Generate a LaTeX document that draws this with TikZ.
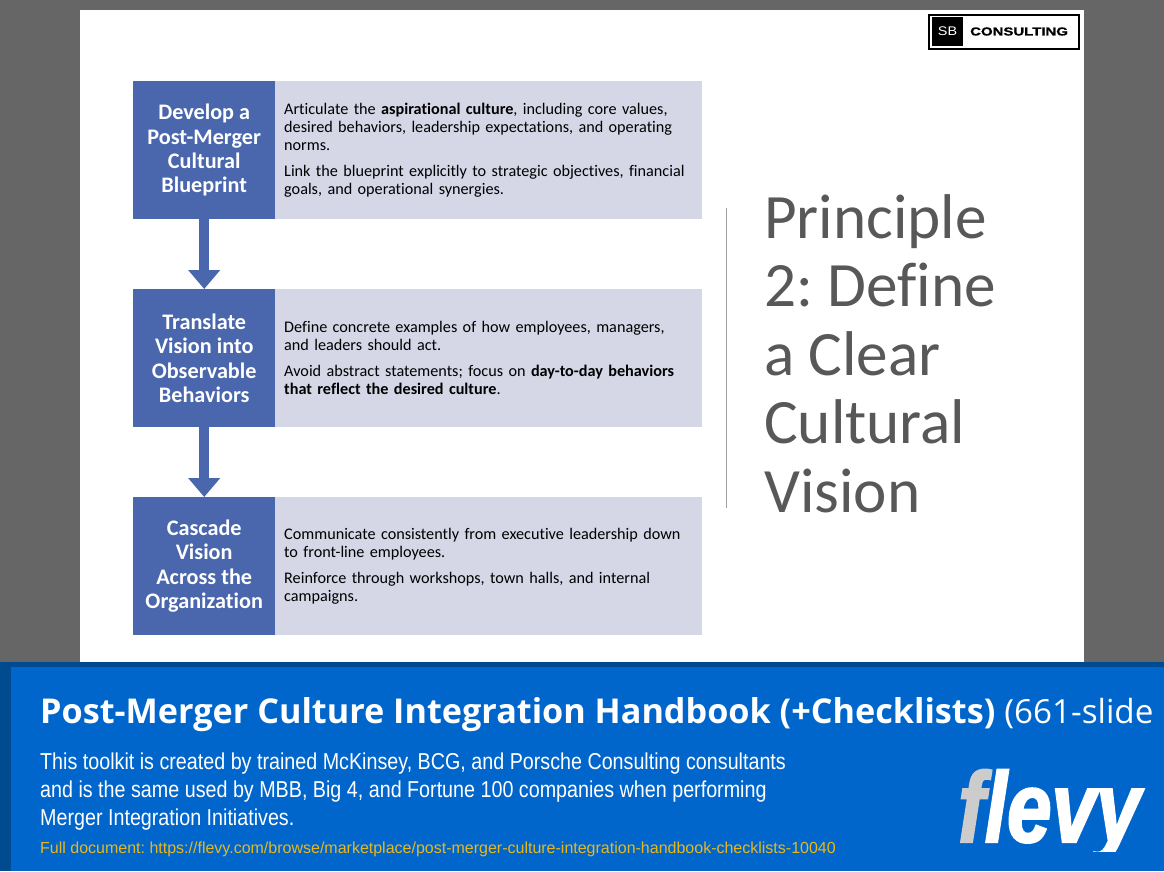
\documentclass[tikz,border=0pt]{standalone}
\usepackage{fontspec}
\setmainfont[Ligatures=NoCommon]{Carlito}
\newfontfamily\arialf{Liberation Sans}
\newfontfamily\blurbf[FakeStretch=0.857]{Liberation Sans}
\newfontfamily\logof[FakeStretch=1.3,FakeBold=1]{Liberation Sans}
\newfontfamily\sbf[FakeStretch=1.15]{Liberation Sans}
\newfontfamily\flevyf[FakeStretch=0.8,FakeBold=2]{Liberation Sans}
\newfontfamily\headf{Open Sans}
\usetikzlibrary{arrows.meta}
\AtBeginDocument{\frenchspacing}
\definecolor{pagegray}{HTML}{666666}
\definecolor{stepblue}{HTML}{4A66AC}
\definecolor{panelgray}{HTML}{D5D6E6}
\definecolor{deepblue}{HTML}{004A8F}
\definecolor{bandblue}{HTML}{0066CC}
\definecolor{linkgold}{HTML}{E8B71E}
\definecolor{headgray}{HTML}{585858}
\definecolor{flevygray}{HTML}{CCCCCC}
\definecolor{rulegray}{HTML}{A0A0A0}
\tikzset{
  stepbox/.style={fill=stepblue,text=white,inner sep=0pt,minimum width=142pt,minimum height=138pt,anchor=north west,align=center,
     font=\fontsize{22.2}{24.4}\selectfont\bfseries},
  panel/.style={fill=panelgray,text=black,inner ysep=0pt,inner xsep=9pt,minimum height=138pt,anchor=north west,text width=409pt,
     align=left,font=\fontsize{16.2}{18}\selectfont},
  flow/.style={draw=stepblue,line width=10pt,-{Triangle[length=19pt,width=31pt]}},
  foot/.style={anchor=base west,inner sep=0pt,align=left},
}
\begin{document}
\begin{tikzpicture}[x=1pt,y=-1pt]
\useasboundingbox (0,0) rectangle (1164,871);
\fill[pagegray] (0,0) rectangle (1164,871);
\fill[white] (80,10) rectangle (1084,662);
% logo
\node[draw=black,line width=2pt,fill=white,minimum width=150pt,minimum height=34pt,inner sep=0pt] (logo) at (1004,32) {};
\node[fill=black,text=white,minimum width=31pt,minimum height=29pt,inner sep=0pt,font=\sbf\fontsize{12.5}{14}\selectfont] (sb) at (947.5,31.5) {SB};
\node[anchor=west,inner sep=0pt,font=\logof\bfseries\fontsize{11.5}{13}\selectfont] (cons) at (970,31.5) {CONSULTING};
% steps
\node[stepbox] (s1) at (133,81) {Develop a\\Post-Merger\\Cultural\\Blueprint};
\node[stepbox] (s2) at (133,289) {Translate\\Vision into\\Observable\\Behaviors};
\node[stepbox] (s3) at (133,497) {Cascade\\Vision\\Across the\\Organization};
\node[panel] (p1) at (275,81) {Articulate the \textbf{aspirational culture}, including core values,\\desired behaviors, leadership expectations, and operating\\norms.\\[8pt]Link the blueprint explicitly to strategic objectives, financial\\goals, and operational synergies.};
\node[panel] (p2) at (275,289) {Define concrete examples of how employees, managers,\\and leaders should act.\\[8pt]Avoid abstract statements; focus on \textbf{day-to-day behaviors}\\\textbf{that reflect the desired culture}.};
\node[panel] (p3) at (275,497) {Communicate consistently from executive leadership down\\to front-line employees.\\[8pt]Reinforce through workshops, town halls, and internal\\campaigns.};
\draw[flow] (s1.south) -- (s2.north);
\draw[flow] (s2.south) -- (s3.north);
% divider and heading
\coordinate (d1) at (726.5,208);
\coordinate (d2) at (726.5,508);
\draw[rulegray,line width=1pt] (d1) -- (d2);
\node[anchor=base west,inner sep=0pt,align=left,text=headgray,font=\fontsize{63.2}{68.5}\selectfont] (head) at (764,512) {Principle\\2: Define\\a Clear\\Cultural\\Vision};
% footer band
\fill[deepblue] (0,662) rectangle (1164,871);
\fill[bandblue] (11,667) rectangle (1164,871);
\node[foot,text=white,font=\headf\fontsize{34.2}{40}\selectfont] (title) at (40,723) {\textbf{Post-Merger Culture Integration Handbook (+Checklists)} {\fontsize{33.2}{40}\selectfont (661-slide}};
\node[foot,text=white,font=\blurbf\fontsize{23}{28}\selectfont] (blurb) at (40,825) {This toolkit is created by trained McKinsey, BCG, and Porsche Consulting consultants\\and is the same used by MBB, Big 4, and Fortune 100 companies when performing\\Merger Integration Initiatives.};
\node[foot,text=linkgold,font=\arialf\fontsize{16}{18}\selectfont] (link) at (40,853) {Full document: https://flevy.com/browse/marketplace/post-merger-culture-integration-handbook-checklists-10040};
\begin{scope}
\clip (950,760) rectangle (1160,851);
\node[foot,font=\flevyf\bfseries\itshape\fontsize{100}{100}\selectfont] (flevy) at (958,842) {\textcolor{flevygray}{f}\textcolor{white}{levy}};
\end{scope}
\end{tikzpicture}
\end{document}
